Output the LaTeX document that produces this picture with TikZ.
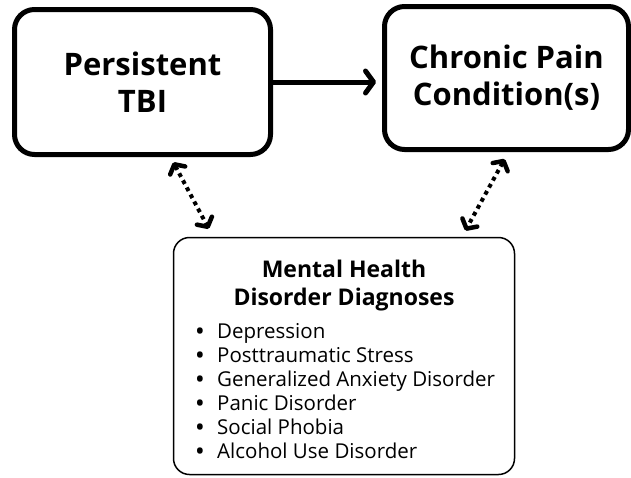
\documentclass[tikz,border=0pt]{standalone}
\usepackage{fontspec}
\setmainfont{Open Sans}
\usetikzlibrary{arrows.meta}
\tikzset{
    bigbox/.style={rectangle, draw, line width = 5pt, rounded corners = 20pt,
                inner sep = 0, align=center,
                font=\fontsize{31}{37}\selectfont\bfseries},
    listbox/.style={rectangle, draw, line width = 1.5pt, rounded corners = 16pt,
                inner sep = 0},
    titlestyle/.style={anchor=base, inner sep = 0, font=\fontsize{23}{27}\selectfont\bfseries},
    itemstyle/.style={anchor=base west, inner sep = 0, font=\fontsize{20.5}{24}\selectfont},
    mainarrow/.style={line width = 5pt, -{Straight Barb[length=8pt, width=22pt, line cap=round, line join=round]}},
    dotarrow/.style={line width = 4pt, dash pattern=on 4pt off 4pt,
                {Straight Barb[length=7pt, width=17pt, line width=4.5pt, line cap=round, line join=round]}-{Straight Barb[length=7pt, width=17pt, line width=4.5pt, line cap=round, line join=round]}},
}
\newcommand{\listItem}[3]{%
    \node[itemstyle] (#1) at (196,#2) {\makebox[21pt][l]{\textbf{•}}#3};
}

\begin{document}
\begin{tikzpicture}[x=1pt, y=-1pt]
        \useasboundingbox (0,0) rectangle (631,477);
        %
        % Top boxes
        \node[bigbox, minimum width = 256pt, minimum height = 145pt] (tbi) at (142.5,82) {Persistent\\TBI};
        \node[bigbox, minimum width = 244pt, minimum height = 143pt] (pain) at (506.5,78) {Chronic Pain\\Condition(s)};
        %
        %
        % Bottom box
        \node[listbox, minimum width = 341pt, minimum height = 237pt] (mental) at (344,356) {};
        \node[titlestyle] (mentalT1) at (344,277) {Mental Health};
        \node[titlestyle] (mentalT2) at (344,305) {Disorder Diagnoses};
        \listItem{item1}{338}{Depression}
        \listItem{item2}{362}{Posttraumatic Stress}
        \listItem{item3}{386}{Generalized Anxiety Disorder}
        \listItem{item4}{410}{Panic Disorder}
        \listItem{item5}{434}{Social Phobia}
        \listItem{item6}{458}{Alcohol Use Disorder}
        %
        %
        % Arrows
        \draw[mainarrow] (tbi.east) -- (tbi.east -| pain.west) [shorten >=6pt];
        \draw[dotarrow, shorten <=6pt, shorten >=9pt] ([xshift=28pt]tbi.south) -- ([xshift=-131pt]mental.north);
        \draw[dotarrow, shorten <=8pt, shorten >=7pt] ([xshift=2pt]pain.south) -- ([xshift=118pt]mental.north);
    \end{tikzpicture}
\end{document}
